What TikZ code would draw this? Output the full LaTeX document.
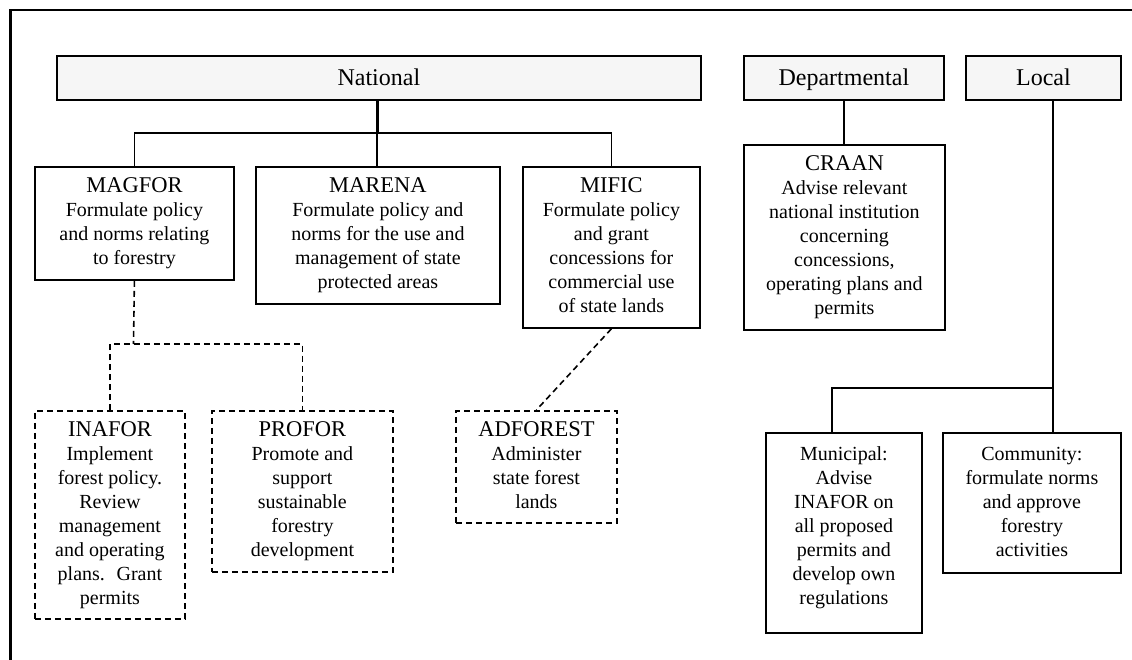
\documentclass[tikz,border=0pt]{standalone}
\usepackage{fontspec}
\setmainfont{Liberation Serif}
\newcommand\titlebox[4]{\begin{minipage}[c][#2pt][t]{#1pt}\centering\vspace{11pt}{\fontsize{22.5}{26}\selectfont #3\par}\fontsize{20}{24}\selectfont #4\par\end{minipage}}
\newcommand\plainbox[3]{\begin{minipage}[c][#2pt][t]{#1pt}\centering\vspace{14pt}\fontsize{20}{24}\selectfont #3\par\end{minipage}}
\tikzset{
  lvl/.style={draw, line width=1.8pt, fill=gray!7, inner sep=0pt, anchor=north west, text height=20pt, text depth=4pt, font=\fontsize{24}{28}\selectfont},
  org/.style={draw, line width=1.8pt, inner sep=0pt, anchor=north west},
  dorg/.style={org, dash pattern=on 6pt off 4pt},
  link/.style={line width=1.6pt},
  dlink/.style={line width=1.6pt, dash pattern=on 6pt off 4pt},
}
\begin{document}
\begin{tikzpicture}[x=1pt,y=-1pt]
\useasboundingbox (0,0) rectangle (1132,660);
\fill[white] (0,0) rectangle (1132,660);
\draw[line width=2.8pt] (10.5,660) -- (10.5,10) -- (1132,10);
% level headers
\node[lvl, minimum width=644pt, minimum height=44pt] (nat) at (56,55) {National};
\node[lvl, minimum width=200pt, minimum height=44pt] (dep) at (743,55) {Departmental};
\node[lvl, minimum width=155pt, minimum height=44pt] (loc) at (965,55) {Local};
% national bodies
\node[org] (magfor) at (34,166) {\titlebox{199}{113}{MAGFOR}{Formulate policy\\and norms relating\\to forestry}};
\node[org] (marena) at (255,166) {\titlebox{244}{137}{MARENA}{Formulate policy and\\norms for the use and\\management of state\\protected areas}};
\node[org] (mific) at (522,166) {\titlebox{177}{161}{MIFIC}{Formulate policy\\and grant\\concessions for\\commercial use\\of state lands}};
\node[org] (craan) at (743,144) {\titlebox{201}{185}{CRAAN}{Advise relevant\\national institution\\concerning\\concessions,\\operating plans and\\permits}};
% dashed bodies
\node[dorg] (inafor) at (34,410) {\titlebox{150}{208}{INAFOR}{Implement\\forest policy.\\Review\\management\\and operating\\plans.~ Grant\\permits}};
\node[dorg] (profor) at (211,410) {\titlebox{181}{161}{PROFOR}{Promote and\\support\\sustainable\\forestry\\development}};
\node[dorg] (adforest) at (455,410) {\titlebox{161}{112}{ADFOREST}{Administer\\state forest\\lands}};
% local bodies
\node[org] (muni) at (765,432) {\plainbox{156}{200}{Municipal:\\Advise\\INAFOR on\\all proposed\\permits and\\develop own\\regulations}};
\node[org] (comm) at (942,432) {\plainbox{178}{140}{Community:\\formulate norms\\and approve\\forestry\\activities}};
% connectors
\coordinate (bus) at (377,133);
\coordinate (dj) at (133.5,344);
\coordinate (lb) at (1053,388);
\coordinate (lm) at (832,388);
\draw[line width=3pt] (nat.south -| bus) -- (bus);
\draw[link] (magfor.north) |- (bus) -| (mific.north);
\draw[link] (bus) -- (marena.north -| bus);
\draw[link] (dep.south) -- (craan.north -| dep.south);
\draw[dlink] (magfor.south) -- (dj);
\draw[dlink] (inafor.north) |- (dj) -| (profor.north);
\draw[dlink] (mific.south) -- (adforest.north);
\draw[link] (loc.south -| lb) -- (comm.north -| lb);
\draw[link] (lb) -- (lm) -- (muni.north -| lm);
\end{tikzpicture}
\end{document}
